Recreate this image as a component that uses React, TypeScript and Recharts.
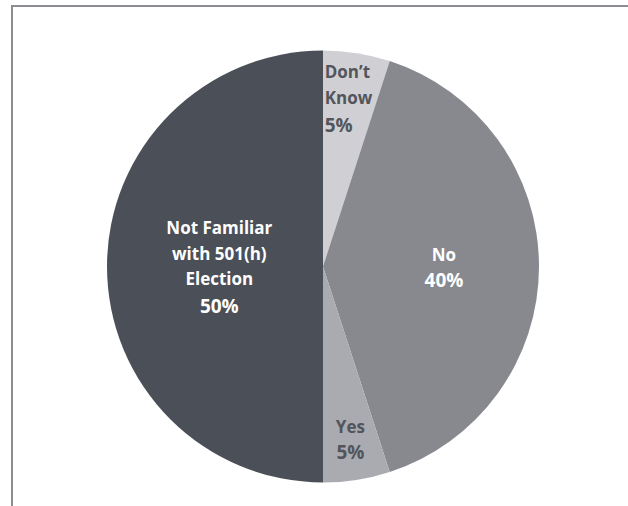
import React from "react";
import { PieChart, Pie, Cell } from "recharts";

const categories = ["Don\u2019t Know", "No", "Yes", "Not Familiar with 501(h) Election"];
const labelLines = [["Don\u2019t", "Know"], ["No"], ["Yes"], ["Not Familiar", "with 501(h)", "Election"]];
const values = [5, 40, 5, 50];
const colors = ["#d0d0d4", "#87898f", "#aaabb0", "#4b4f57"];
const textColors = ["#52555c", "#ffffff", "#52555c", "#ffffff"];
const labelRadius = [0.79, 0.56, 0.81, 0.48];

const data = categories.map((name, i) => ({ name, value: values[i] }));

const RADIAN = Math.PI / 180;

const renderLabel = (props: any) => {
  const { cx, cy, midAngle, outerRadius, index } = props;
  const r = outerRadius * labelRadius[index];
  const x = cx + r * Math.cos(-midAngle * RADIAN);
  const y = cy + r * Math.sin(-midAngle * RADIAN);
  const lines = [...labelLines[index], `${values[index]}%`];
  const lh = 25.5;
  const pctGap = lines.length > 2 ? 28 : 26;
  const total = (lines.length - 2) * lh + pctGap;
  const top = y - total / 2;
  const leftAlign = index === 0;
  const tx = leftAlign ? x - 25 : x;
  return (
    <text
      x={tx}
      y={top}
      fill={textColors[index]}
      textAnchor={leftAlign ? "start" : "middle"}
      dominantBaseline="central"
      fontFamily="'Open Sans', sans-serif"
      fontWeight={700}
      fontSize={17}
    >
      {lines.map((l, i) => {
        const last = i === lines.length - 1;
        return (
          <tspan key={i} x={tx} dy={i === 0 ? 0 : last ? pctGap : lh} fontSize={last ? 19 : 17}>
            {l}
          </tspan>
        );
      })}
    </text>
  );
};

export default function App() {
  return (
    <div style={{ position: "absolute", left: 0, top: 0, width: 628, height: 506, background: "#fff" }}>
      <div
        style={{
          position: "absolute",
          left: 11,
          top: 5,
          width: 617,
          height: 501,
          borderTop: "2px solid #8c8c92",
          borderLeft: "2px solid #8c8c92",
        }}
      />
      <div style={{ position: "absolute", left: 0, top: 0 }}>
        <PieChart width={628} height={506} margin={{ top: 0, right: 0, bottom: 0, left: 0 }}>
          <Pie
            data={data}
            dataKey="value"
            nameKey="name"
            cx={323}
            cy={266.5}
            outerRadius={216}
            startAngle={90}
            endAngle={-270}
            stroke="none"
            labelLine={false}
            label={renderLabel}
            isAnimationActive={false}
          >
            {data.map((d, i) => (
              <Cell key={d.name} fill={colors[i]} />
            ))}
          </Pie>
        </PieChart>
      </div>
    </div>
  );
}
